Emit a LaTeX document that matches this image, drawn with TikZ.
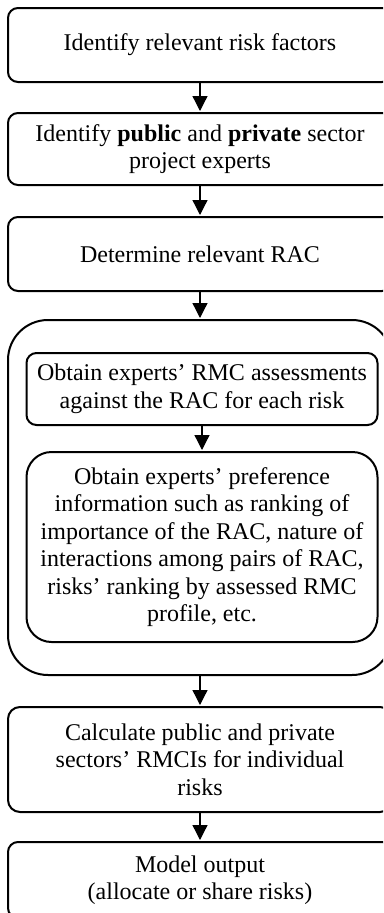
\documentclass[tikz,border=0pt]{standalone}
\usepackage{fontspec}
\setmainfont{Liberation Serif}
\usetikzlibrary{arrows.meta}
\begin{document}
\begin{tikzpicture}[x=1pt,y=-1pt,
  boxstyle/.style={draw=black, line width=2pt, rounded corners=#1, align=center,
    font=\fontsize{24pt}{27.5pt}\selectfont, inner sep=0pt},
  boxstyle/.default=10pt,
  flow/.style={line width=1.3pt, -{Triangle[width=15pt,length=15pt]}, shorten >=1pt}]
\useasboundingbox (0,0) rectangle (383,913);
\clip (0,0) rectangle (383,913);
\fill[white] (0,0) rectangle (383,913);

\node[boxstyle, minimum width=384pt, minimum height=74pt] (b1) at (200,45)
  {Identify relevant risk factors};
\node[boxstyle, minimum width=384pt, minimum height=72pt] (b2) at (200,149)
  {Identify \textbf{public} and \textbf{private} sector\\project experts};
\node[boxstyle, minimum width=384pt, minimum height=74pt] (b3) at (200,254)
  {Determine relevant RAC};
\node[boxstyle=40pt, minimum width=384pt, minimum height=355pt] (outer) at (200,497.5) {};
\node[boxstyle, minimum width=351pt, minimum height=72pt] (i1) at (202,389)
  {Obtain experts’ RMC assessments\\against the RAC for each risk};
\node[boxstyle=25pt, minimum width=351pt, minimum height=190pt] (i2) at (202,547)
  {Obtain experts’ preference\\information such as ranking of\\importance of the RAC, nature of\\interactions among pairs of RAC,\\risks’ ranking by assessed RMC\\profile, etc.};
\node[boxstyle=12pt, minimum width=384pt, minimum height=105pt] (b5) at (200,759.5)
  {Calculate public and private\\sectors’ RMCIs for individual\\risks};
\node[boxstyle, minimum width=384pt, minimum height=76pt] (b6) at (200,880)
  {Model output\\(allocate or share risks)};

\draw[flow] (b1.south) -- (b2.north);
\draw[flow] (b2.south) -- (b3.north);
\draw[flow] (b3.south) -- (outer.north);
\draw[flow] (i1.south) -- (i2.north);
\draw[flow] (outer.south) -- (b5.north);
\draw[flow] (b5.south) -- (b6.north);
\end{tikzpicture}
\end{document}
